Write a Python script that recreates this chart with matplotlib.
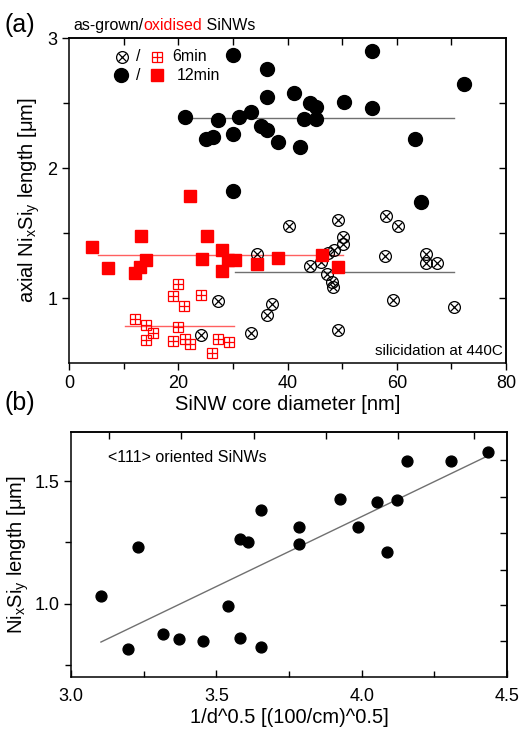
import numpy as np
import matplotlib
matplotlib.use("Agg")
import matplotlib.pyplot as plt

plt.rcParams['font.family'] = ['Liberation Sans', 'DejaVu Sans']
plt.rcParams['mathtext.fontset'] = 'custom'
plt.rcParams['mathtext.rm'] = 'Liberation Sans'
plt.rcParams['mathtext.it'] = 'Liberation Sans'

# ---------------- panel (a) data ----------------
# as-grown, 12 min (filled black circles)
grown12_d = [30.1, 36.3, 36.3, 41.2, 21.2, 27.2, 31.2, 33.3, 25.1, 26.3, 30.1, 35.1, 36.3,
             38.2, 30.1, 55.4, 72.3, 44.2, 45.3, 50.3, 55.4, 43.1, 45.3, 42.2, 63.3, 64.4]
grown12_L = [2.87, 2.76, 2.55, 2.58, 2.39, 2.37, 2.39, 2.43, 2.22, 2.24, 2.26, 2.32, 2.29,
             2.20, 1.82, 2.90, 2.65, 2.50, 2.47, 2.51, 2.46, 2.38, 2.38, 2.16, 2.22, 1.74]
# as-grown, 6 min (crossed open circles)
grown6_d = [34.4, 27.2, 24.2, 33.3, 36.2, 37.2, 40.2, 49.3, 58.0, 60.3, 50.2, 50.2, 48.5,
            44.2, 46.1, 47.5, 47.2, 48.1, 48.3, 57.9, 65.4, 65.4, 67.3, 59.4, 70.4, 49.3]
grown6_L = [1.335, 0.977, 0.712, 0.733, 0.867, 0.951, 1.553, 1.599, 1.630, 1.553, 1.470, 1.419, 1.368,
            1.244, 1.278, 1.347, 1.188, 1.124, 1.085, 1.322, 1.335, 1.270, 1.270, 0.982, 0.931, 0.756]
# oxidised, 12 min (filled red squares)
oxid12_d = [22.2, 4.2, 7.2, 13.1, 14.1, 13.0, 12.1, 25.2, 24.3, 28.1, 29.1, 30.4, 28.1,
            34.4, 38.3, 46.3, 49.3]
oxid12_L = [1.786, 1.389, 1.227, 1.476, 1.291, 1.239, 1.196, 1.476, 1.298, 1.373, 1.291, 1.296, 1.206,
            1.265, 1.311, 1.329, 1.239]
# oxidised, 6 min (gridded open red squares)
oxid6_d = [20.0, 19.1, 21.1, 24.2, 12.1, 14.1, 15.3, 14.1, 20.0, 19.1, 22.2, 21.2, 27.2, 29.2, 26.2]
oxid6_L = [1.106, 1.015, 0.938, 1.026, 0.841, 0.790, 0.733, 0.679, 0.776, 0.668, 0.643, 0.687,
           0.682, 0.661, 0.579]
# x-extent of the mean-value lines
grown12_span = [22.5, 70.4]
grown6_span = [30.4, 70.4]
oxid12_span = [5.4, 50.2]
oxid6_span = [10.3, 30.2]

# ---------------- panel (b) data ----------------
inv_sqrt_d = [3.103, 3.197, 3.229, 3.318, 3.373, 3.453, 3.540, 3.581, 3.608, 3.582, 3.654, 3.654,
              3.784, 3.784, 3.926, 3.987, 4.052, 4.086, 4.120, 4.155, 4.307, 4.433]
silicide_L = [1.029, 0.813, 1.231, 0.876, 0.855, 0.847, 0.989, 1.262, 1.250, 0.858, 1.382, 0.821,
              1.313, 1.242, 1.427, 1.313, 1.414, 1.210, 1.422, 1.583, 1.581, 1.619]

W, H = 524, 729
fig = plt.figure(figsize=(W / 100, H / 100), dpi=100)

def fr(l, t, r, b):
    return [l / W, 1 - b / H, (r - l) / W, (b - t) / H]

TICK = 13
LAB = 14.5

# ================= panel (a) =================
ax = fig.add_axes(fr(69, 38, 506, 363))
ax.set_xlim(0, 80)
ax.set_ylim(0.5, 3.0)

line_gray = '#707070'
line_red = '#ff6060'
ax.plot(grown12_span, [np.mean(grown12_L)] * 2, color=line_gray, lw=1.0, zorder=1)
ax.plot(grown6_span, [np.mean(grown6_L)] * 2, color=line_gray, lw=1.0, zorder=1)
ax.plot(oxid12_span, [np.mean(oxid12_L)] * 2, color=line_red, lw=1.0, zorder=1)
ax.plot(oxid6_span, [np.mean(oxid6_L)] * 2, color=line_red, lw=1.0, zorder=1)

ax.plot(grown12_d, grown12_L, 'o', color='black', ms=10, zorder=3)
ax.plot(grown6_d, grown6_L, 'o', mfc='none', mec='black', ms=8.5, mew=0.9, zorder=3)
ax.plot(grown6_d, grown6_L, 'x', mec='black', ms=5.8, mew=0.9, zorder=3)
ax.plot(oxid12_d, oxid12_L, 's', color='red', ms=8, zorder=3)
ax.plot(oxid6_d, oxid6_L, 's', mfc='none', mec='red', ms=7.8, mew=0.9, zorder=3)
ax.plot(oxid6_d, oxid6_L, '+', mec='red', ms=7.8, mew=0.9, zorder=3)

ax.set_xticks([0, 20, 40, 60, 80])
ax.set_xticks([10, 30, 50, 70], minor=True)
ax.set_yticks([1, 2, 3])
ax.set_yticks([1.5, 2.5], minor=True)
ax.tick_params(axis='both', which='both', direction='out', labelsize=TICK, width=1.0,
               top=False, right=False)
ax.tick_params(which='major', length=5)
ax.tick_params(which='minor', length=4)
topax = ax.secondary_xaxis('top')
topax.set_xticks(np.arange(10, 80, 10))
topax.tick_params(direction='in', length=5, width=1.0, labeltop=False)
rax = ax.secondary_yaxis('right')
rax.set_yticks([1.0, 1.5, 2.0, 2.5])
rax.tick_params(direction='in', length=5, width=1.0, labelright=False)
for s in list(ax.spines.values()):
    s.set_linewidth(1.1)
topax.spines['top'].set_linewidth(1.1)
rax.spines['right'].set_linewidth(1.1)

ax.set_xlabel('SiNW core diameter [nm]', fontsize=LAB, labelpad=2)
ax.set_ylabel('axial Ni$_\\mathrm{x}$Si$_\\mathrm{y}$ length [$\\mu$m]', fontsize=LAB, labelpad=4)

# legend (manual)
for yy, txt, big in [(0.942, '6min', False), (0.886, '12min', True)]:
    if big:
        ax.plot([0.118], [yy], 'o', color='black', ms=10, transform=ax.transAxes, clip_on=False)
        ax.plot([0.201], [yy], 's', color='red', ms=8, transform=ax.transAxes, clip_on=False)
        ax.text(0.247, yy, txt, transform=ax.transAxes, fontsize=11.5, va='center')
    else:
        ax.plot([0.121], [yy], 'o', mfc='none', mec='black', ms=8.5, mew=0.9, transform=ax.transAxes)
        ax.plot([0.121], [yy], 'x', mec='black', ms=5.8, mew=0.9, transform=ax.transAxes)
        ax.plot([0.201], [yy], 's', mfc='none', mec='red', ms=7.8, mew=0.9, transform=ax.transAxes)
        ax.plot([0.201], [yy], '+', mec='red', ms=7.8, mew=0.9, transform=ax.transAxes)
        ax.text(0.236, yy, txt, transform=ax.transAxes, fontsize=11.5, va='center')
    ax.text(0.158, yy, '/', transform=ax.transAxes, fontsize=11.5, va='center', ha='center')

ax.text(0.993, 0.037, 'silicidation at 440C', transform=ax.transAxes, fontsize=11,
        ha='right', va='center')

# title pieces
t1 = fig.text(73 / W, 1 - 30 / H, 'as-grown/', fontsize=11.5, va='baseline')
t2 = ax.annotate('oxidised', xy=(1, 0), xycoords=t1, va='bottom', ha='left',
                 fontsize=11.5, color='red', annotation_clip=False)
t3 = ax.annotate(' SiNWs', xy=(1, 0), xycoords=t2, va='bottom', ha='left',
                 fontsize=11.5, annotation_clip=False)
fig.text(5 / W, 1 - 32 / H, '(a)', fontsize=18, va='baseline')

# ================= panel (b) =================
bx = fig.add_axes(fr(71, 432, 507, 677))
bx.set_xlim(3.0, 4.5)
bx.set_ylim(0.70, 1.70)
coef = np.polyfit(inv_sqrt_d, silicide_L, 1)
xs = np.array([min(inv_sqrt_d), max(inv_sqrt_d)])
bx.plot(xs, np.polyval(coef, xs), color=line_gray, lw=1.0, zorder=1)
bx.plot(inv_sqrt_d, silicide_L, 'o', color='black', ms=7.8, zorder=3)

bx.set_xticks([3.0, 3.5, 4.0, 4.5])
bx.set_xticklabels(['3.0', '3.5', '4.0', '4.5'])
bx.set_xticks([3.25, 3.75, 4.25], minor=True)
bx.set_yticks([1.0, 1.5])
bx.set_yticklabels(['1.0', '1.5'])
bx.set_yticks([0.75, 1.25], minor=True)
bx.tick_params(axis='x', which='both', direction='in', labelsize=TICK, width=1.0, top=False, pad=8)
bx.tick_params(axis='y', which='both', direction='out', labelsize=TICK, width=1.0, right=False)
bx.tick_params(which='major', length=5)
bx.tick_params(which='minor', length=4)
btop = bx.secondary_xaxis('top')
btop.set_xticks([3.131, 3.378, 3.629, 3.877, 4.125, 4.386])
btop.tick_params(direction='in', length=5, width=1.0, labeltop=False)
bright = bx.secondary_yaxis('right')
bright.set_yticks([0.846, 0.992, 1.138, 1.289, 1.435, 1.585])
bright.tick_params(direction='in', length=5, width=1.0, labelright=False)
for s in list(bx.spines.values()):
    s.set_linewidth(1.1)
btop.spines['top'].set_linewidth(1.1)
bright.spines['right'].set_linewidth(1.1)

bx.set_xlabel('1/d^0.5 [(100/cm)^0.5]', fontsize=LAB, labelpad=2)
bx.set_ylabel('Ni$_\\mathrm{x}$Si$_\\mathrm{y}$ length [$\\mu$m]', fontsize=LAB, labelpad=2)
bx.text(0.085, 0.894, '<111> oriented SiNWs', transform=bx.transAxes, fontsize=11.5,
        va='center', ha='left')
fig.text(5 / W, 1 - 410 / H, '(b)', fontsize=18, va='baseline')

fig.savefig('out.png', dpi=100)
